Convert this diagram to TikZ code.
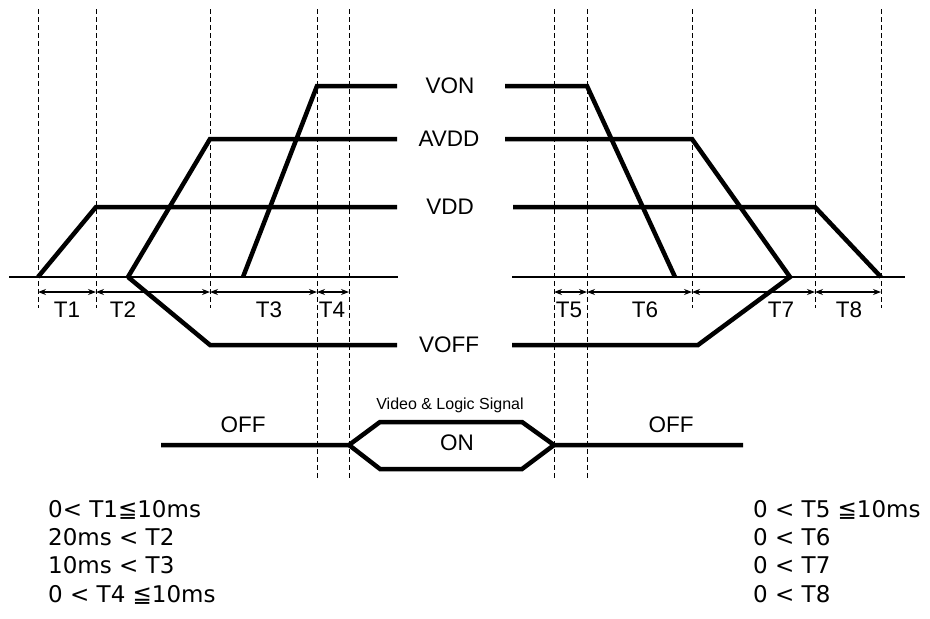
\documentclass[tikz,border=0pt]{standalone}
\usepackage{fontspec}
\setmainfont{Liberation Sans}
\newfontfamily\symfont{DejaVu Sans}
\usetikzlibrary{arrows.meta}
\tikzset{
  every picture/.style={font=\fontsize{22.5}{26}\selectfont, x=1pt, y=-1pt},
  wave/.style={draw=black, line width=4.5pt},
  axis/.style={draw=black, line width=1.2pt},
  guide/.style={draw=black, line width=0.9pt, dash pattern=on 5pt off 3pt},
  dim/.style={{Stealth[length=8pt,width=6pt]}-{Stealth[length=8pt,width=6pt]}, draw=black, line width=1.1pt},
  lbl/.style={inner sep=0pt},
  small/.style={inner sep=0pt, font=\fontsize{16}{18}\selectfont},
  cond/.style={inner sep=0pt, anchor=base west, font=\symfont\fontsize{23}{26}\selectfont},
}

\begin{document}
\begin{tikzpicture}
  \useasboundingbox (0,0) rectangle (930,619);
  % time marks
  \foreach \x/\e [count=\i] in {38/308, 96/308, 210/308, 317/478, 349/478, 554/478, 587/478, 692/308, 815/308, 881/308} {
    \coordinate (g\i) at (\x,9);
    \coordinate (e\i) at (\x,\e);
    \coordinate (a\i) at (\x,292);
    \draw[guide] (g\i) -- (e\i);
  }
  % ground line
  \coordinate (bl0) at (9,277);   \coordinate (bl1) at (398,277);
  \coordinate (br0) at (512,277); \coordinate (br1) at (905,277);
  \draw[axis] (bl0) -- (bl1);
  \draw[axis] (br0) -- (br1);

  % rail labels
  \node[lbl] (von) at (450,86) {VON};
  \node[lbl] (avdd) at (449,139) {AVDD};
  \node[lbl] (vdd) at (450,207) {VDD};
  \node[lbl] (voff) at (449,345) {VOFF};

  % power on
  \draw[wave] (38,277) -- (96,207) -- (vdd.west -| 397,0);
  \draw[wave] (128,277) -- (210,139) -- (avdd.west -| 397,0);
  \draw[wave] (128,277) -- (210,345) -- (voff.west -| 397,0);
  \draw[wave] (243,277) -- (317,86) -- (von.west -| 397,0);
  % power off
  \draw[wave] (vdd.east -| 513,0) -- (815,207) -- (881,277);
  \draw[wave] (avdd.east -| 505,0) -- (692,139) -- (790,277) -- (698,345) -- (voff.east -| 512,0);
  \draw[wave] (von.east -| 505,0) -- (587,86) -- (675,277);

  % intervals
  \foreach \i/\j/\x/\t in {1/2/67/T1, 2/3/123/T2, 3/4/269/T3, 4/5/332/T4, 6/7/569/T5, 7/8/645/T6, 8/9/781/T7, 9/10/849/T8} {
    \draw[dim] (a\i) -- (a\j);
    \node[lbl] (l\t) at (\x,310) {\t};
  }

  % video & logic signal
  \coordinate (s0) at (161,445);  \coordinate (s1) at (349,445);
  \coordinate (s2) at (380,422);  \coordinate (s3) at (522,422);
  \coordinate (s4) at (554,445);  \coordinate (s5) at (743,445);
  \coordinate (s6) at (380,469);  \coordinate (s7) at (522,469);
  \draw[wave] (s0) -- (s1) -- (s2) -- (s3) -- (s4) -- (s5);
  \draw[wave] (s1) -- (s6) -- (s7) -- (s4);
  \node[small] (sig) at (450,405) {Video \& Logic Signal};
  \node[lbl] (on) at (457,443) {ON};
  \node[lbl] (offl) at (243,425) {OFF};
  \node[lbl] (offr) at (671,425) {OFF};

  % conditions
  \node[cond] (c1) at (48,517) {0< T1≦10ms};
  \node[cond] (c2) at (48,545) {20ms < T2};
  \node[cond] (c3) at (48,573) {10ms < T3};
  \node[cond] (c4) at (48,602) {0 < T4 ≦10ms};
  \node[cond] (c5) at (753,517) {0 < T5 ≦10ms};
  \node[cond] (c6) at (753,545) {0 < T6};
  \node[cond] (c7) at (753,573) {0 < T7};
  \node[cond] (c8) at (753,602) {0 < T8};
\end{tikzpicture}
\end{document}
